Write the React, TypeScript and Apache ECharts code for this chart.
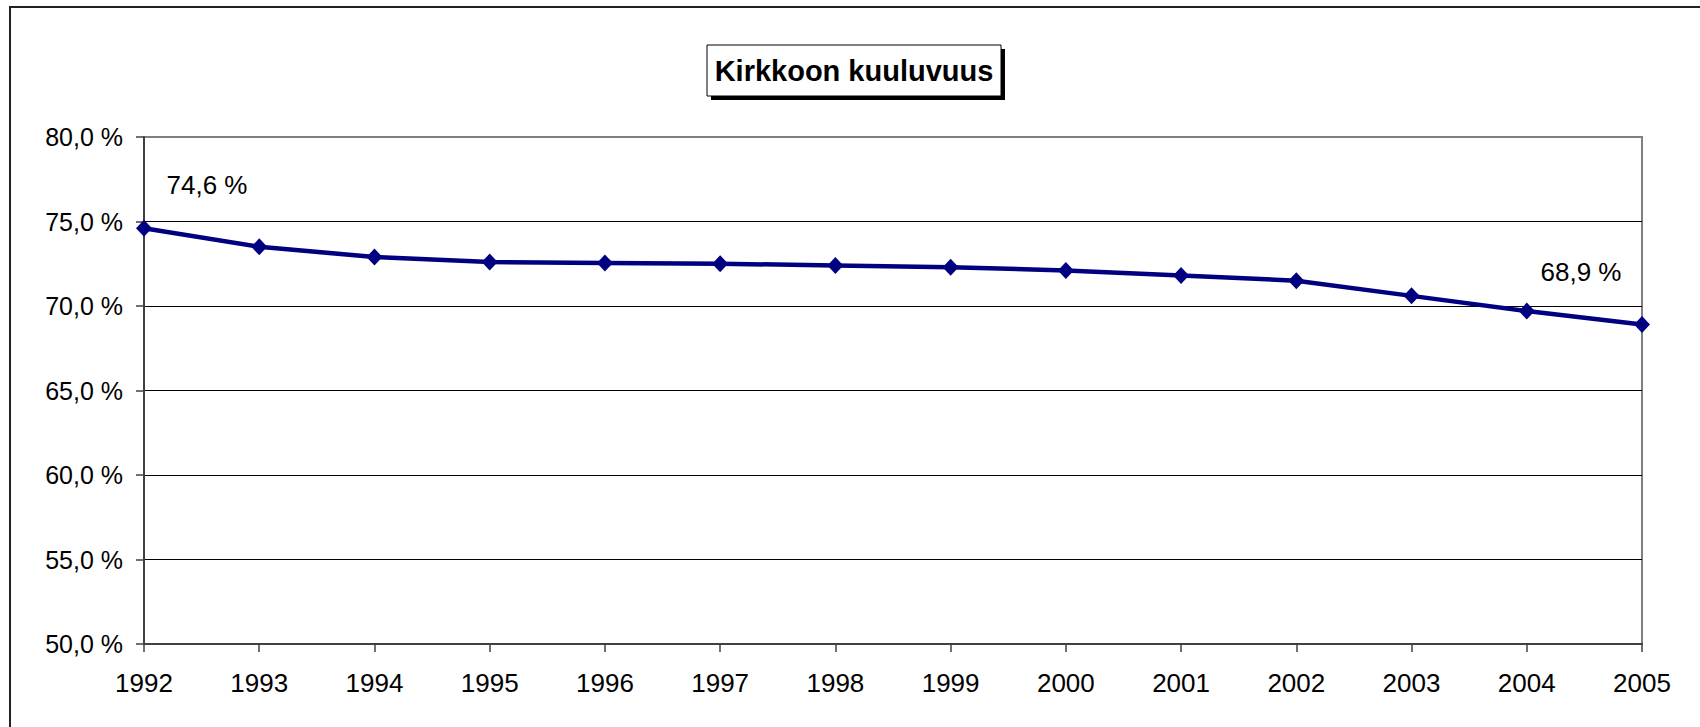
import React, { useEffect, useRef } from "react";
import * as echarts from "echarts";

const years = ["1992", "1993", "1994", "1995", "1996", "1997", "1998", "1999", "2000", "2001", "2002", "2003", "2004", "2005"];
const membership = [74.6, 73.5, 72.9, 72.6, 72.55, 72.5, 72.4, 72.3, 72.1, 71.8, 71.5, 70.6, 69.7, 68.9];
const titleText = "Kirkkoon kuuluvuus";
const yMin = 50;
const yMax = 80;
const yStep = 5;

const FONT = "'Liberation Sans', Arial, sans-serif";
const fmt = (v: number) => v.toFixed(1).replace(".", ",") + " %";

export default function App() {
  const ref = useRef<HTMLDivElement>(null);
  useEffect(() => {
    if (!ref.current) return;
    const chart = echarts.init(ref.current, null, { renderer: "svg" });
    const last = membership.length - 1;
    const data = membership.map((v, i) => {
      if (i === 0) {
        return { value: v, label: { show: true, position: "inside", offset: [63, -43] } };
      }
      if (i === last) {
        return { value: v, label: { show: true, position: "inside", offset: [-61, -53] } };
      }
      return { value: v };
    });
    const nTicks = Math.round((yMax - yMin) / yStep) + 1;
    const splitColors = Array.from({ length: nTicks }, (_, i) => (i === nTicks - 1 ? "#808080" : "#000000"));
    chart.setOption({
      animation: false,
      backgroundColor: "#ffffff",
      textStyle: { fontFamily: FONT },
      grid: {
        left: 144,
        right: 58,
        top: 137,
        bottom: 83,
        show: true,
        borderColor: "#808080",
        borderWidth: 2,
        backgroundColor: "transparent",
      },
      xAxis: {
        type: "category",
        data: years,
        boundaryGap: false,
        axisLine: { lineStyle: { color: "#404040", width: 2 } },
        axisTick: { show: true, length: 8, lineStyle: { color: "#404040", width: 1.5 } },
        axisLabel: { color: "#000", fontSize: 26, fontFamily: FONT, margin: 26 },
        splitLine: { show: false },
      },
      yAxis: {
        type: "value",
        min: yMin,
        max: yMax,
        interval: yStep,
        axisLine: { show: true, lineStyle: { color: "#404040", width: 2 } },
        axisTick: { show: true, length: 8, lineStyle: { color: "#404040", width: 1.5 } },
        axisLabel: { color: "#000", fontSize: 25, fontFamily: FONT, margin: 21, formatter: (v: number) => fmt(v) },
        splitLine: { show: true, lineStyle: { color: splitColors, width: 1.2 } },
      },
      series: [
        {
          type: "line",
          data,
          symbol: "diamond",
          symbolSize: [16, 17],
          itemStyle: { color: "#000080" },
          lineStyle: { color: "#000080", width: 4.5 },
          label: {
            show: false,
            color: "#000",
            fontSize: 26,
            fontFamily: FONT,
            align: "center",
            verticalAlign: "middle",
            formatter: (p: any) => fmt(p.value),
          },
          z: 5,
        },
      ],
      graphic: [
        {
          type: "rect",
          shape: { x: 10, y: 7, width: 1750, height: 780 },
          style: { fill: "none", stroke: "#222", lineWidth: 2 },
          silent: true,
        },
        {
          type: "rect",
          shape: { x: 711, y: 49, width: 294, height: 51 },
          style: { fill: "#000" },
          silent: true,
        },
        {
          type: "rect",
          shape: { x: 707, y: 45, width: 294, height: 51 },
          style: { fill: "#fff", stroke: "#000", lineWidth: 1 },
          silent: true,
        },
        {
          type: "text",
          x: 854,
          y: 71,
          style: {
            text: titleText,
            fill: "#000",
            font: `bold 29px ${FONT}`,
            align: "center",
            verticalAlign: "middle",
          },
          silent: true,
        },
      ],
    });
    return () => chart.dispose();
  }, []);
  return <div ref={ref} style={{ position: "fixed", left: 0, top: 0, width: 1700, height: 727 }} />;
}
